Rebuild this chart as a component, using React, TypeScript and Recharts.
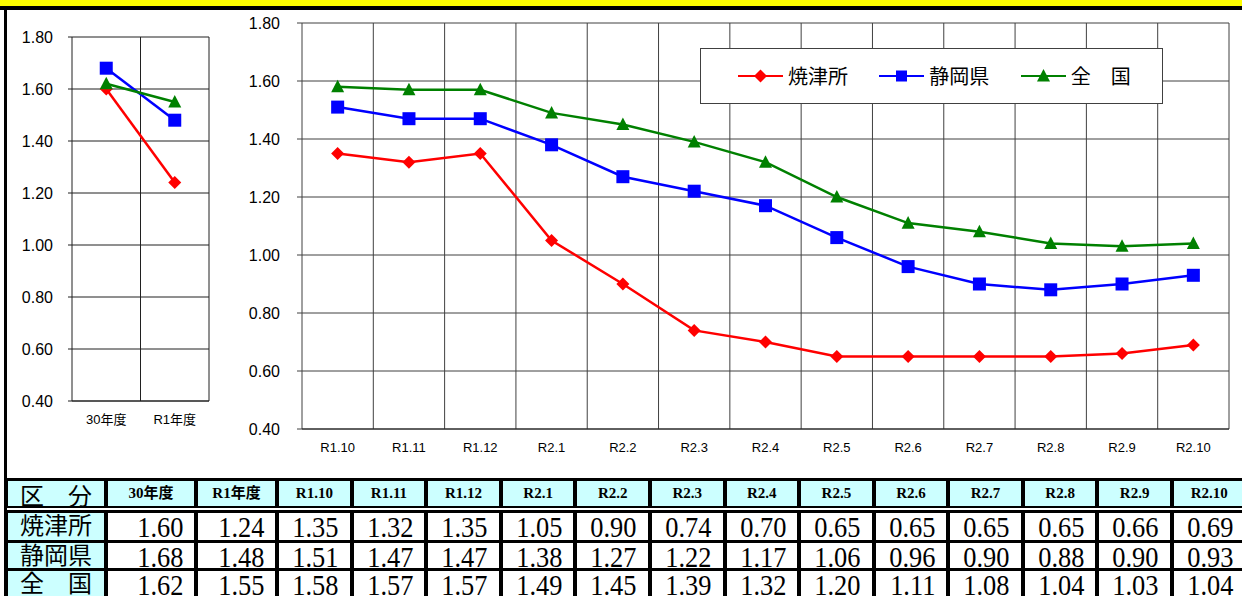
import React from 'react';
import { LineChart, Line, XAxis, YAxis, CartesianGrid, Legend } from 'recharts';

// ---------- data ----------
const seriesNames = ['焼津所', '静岡県', '全　国'];
const seriesKeys = ['yaizu', 'shizuoka', 'national'];
const seriesColors = ['#FF0000', '#0000FF', '#008000'];
const seriesShapes = ['diamond', 'square', 'triangle'];

const fyCategories = ['30年度', 'R1年度'];
const fyYaizu = [1.6, 1.24];
const fyShizuoka = [1.68, 1.48];
const fyNational = [1.62, 1.55];

const monthCategories = ['R1.10', 'R1.11', 'R1.12', 'R2.1', 'R2.2', 'R2.3', 'R2.4', 'R2.5', 'R2.6', 'R2.7', 'R2.8', 'R2.9', 'R2.10'];
const monthYaizu = [1.35, 1.32, 1.35, 1.05, 0.9, 0.74, 0.7, 0.65, 0.65, 0.65, 0.65, 0.66, 0.69];
const monthShizuoka = [1.51, 1.47, 1.47, 1.38, 1.27, 1.22, 1.17, 1.06, 0.96, 0.9, 0.88, 0.9, 0.93];
const monthNational = [1.58, 1.57, 1.57, 1.49, 1.45, 1.39, 1.32, 1.2, 1.11, 1.08, 1.04, 1.03, 1.04];

const yTicks = [0.4, 0.6, 0.8, 1.0, 1.2, 1.4, 1.6, 1.8];
const tableCornerLabel = '区　分';

// ---------- derived ----------
const fyData = fyCategories.map((name, i) => ({
  name,
  yaizu: fyYaizu[i],
  shizuoka: fyShizuoka[i],
  national: fyNational[i],
}));
const monthData = monthCategories.map((name, i) => ({
  name,
  yaizu: monthYaizu[i],
  shizuoka: monthShizuoka[i],
  national: monthNational[i],
}));
const allCategories = [...fyCategories, ...monthCategories];
const tableRows = [
  [...fyYaizu, ...monthYaizu],
  [...fyShizuoka, ...monthShizuoka],
  [...fyNational, ...monthNational],
];

const SANS = "'Liberation Sans', Arial, 'Noto Sans CJK JP', sans-serif";
const SERIF = "'Liberation Serif', 'Times New Roman', 'Noto Sans CJK JP', serif";
const CJK = "'Noto Sans CJK JP', sans-serif";

function Marker({ shape, cx, cy, color, r }: any) {
  if (cx == null || cy == null) return null;
  if (shape === 'diamond') {
    return <polygon points={`${cx},${cy - r} ${cx + r},${cy} ${cx},${cy + r} ${cx - r},${cy}`} fill={color} />;
  }
  if (shape === 'square') {
    return <rect x={cx - r} y={cy - r} width={2 * r} height={2 * r} fill={color} />;
  }
  return <polygon points={`${cx},${cy - r - 0.5} ${cx + r},${cy + r * 0.85} ${cx - r},${cy + r * 0.85}`} fill={color} />;
}

const boundaryGen = (n: number) => (props: any) => {
  const off = props.offset;
  const w = off.width != null ? off.width : props.width - off.left - off.right;
  return Array.from({ length: n + 1 }, (_, i) => off.left + (w * i) / n);
};

function renderSeries(markerR: number) {
  return seriesKeys.map((k, i) => (
    <Line
      key={k}
      type="linear"
      dataKey={k}
      name={seriesNames[i]}
      stroke={seriesColors[i]}
      strokeWidth={2.5}
      isAnimationActive={false}
      dot={(p: any) => (
        <Marker key={`${k}-${p.index}`} shape={seriesShapes[i]} cx={p.cx} cy={p.cy} color={seriesColors[i]} r={markerR} />
      )}
      activeDot={false}
    />
  ));
}

function LegendBox(props: any) {
  const payload = [...(props.payload || [])].sort(
    (a: any, b: any) => seriesNames.indexOf(a.value) - seriesNames.indexOf(b.value)
  );
  return (
    <div
      style={{
        width: 463,
        height: 56,
        boxSizing: 'border-box',
        border: '1px solid #404040',
        background: '#fff',
        display: 'flex',
        alignItems: 'center',
        paddingLeft: 37,
      }}
    >
      {payload.map((entry: any, i: number) => {
        const idx = seriesNames.indexOf(entry.value);
        const j = idx >= 0 ? idx : i;
        return (
          <div key={i} style={{ width: 146, display: 'flex', alignItems: 'center' }}>
            <svg width={45} height={16} style={{ display: 'block' }}>
              <line x1={0} y1={8} x2={45} y2={8} stroke={seriesColors[j]} strokeWidth={2} />
              <Marker shape={seriesShapes[j]} cx={22.5} cy={8} color={seriesColors[j]} r={seriesShapes[j] === 'square' ? 5.5 : 6.5} />
            </svg>
            <span style={{ marginLeft: 5, fontFamily: CJK, fontSize: 20, color: '#000', lineHeight: '20px' }}>
              {entry.value}
            </span>
          </div>
        );
      })}
    </div>
  );
}

// table geometry
const firstColCells = [
  [8, 104],
  [108, 194],
  [198, 275],
];
const rStart = 279.1;
const rStep = 74.57;
const rWidth = 70.6;
const colCell = (c: number): [number, number] => {
  if (c < 3) return firstColCells[c] as [number, number];
  const k = c - 3;
  const s = rStart + k * rStep;
  return [s, s + rWidth];
};
const rowCells = [
  [481, 506],
  [513, 540],
  [543, 568],
  [571, 600],
];

export default function App() {
  const cells: React.ReactNode[] = [];
  {
    const [x0, x1] = colCell(0);
    const [y0, y1] = rowCells[0];
    cells.push(
      <div
        key="corner"
        style={{
          position: 'absolute', left: x0, top: y0, width: x1 - x0, height: y1 - y0,
          background: '#CCFFFF', display: 'flex', alignItems: 'center', justifyContent: 'center',
          fontFamily: CJK, fontSize: 24, lineHeight: `${y1 - y0}px`, color: '#000', overflow: 'visible',
        }}
      >
        <span style={{ position: 'relative', top: 1 }}>{tableCornerLabel}</span>
      </div>
    );
  }
  allCategories.forEach((cat, c) => {
    const [x0, x1] = colCell(c + 1);
    const [y0, y1] = rowCells[0];
    cells.push(
      <div
        key={`h${c}`}
        style={{
          position: 'absolute', left: x0, top: y0, width: x1 - x0, height: y1 - y0,
          background: '#CCFFFF', textAlign: 'center', fontFamily: SERIF, fontWeight: 'bold',
          fontSize: 15, lineHeight: `${y1 - y0}px`, color: '#000', whiteSpace: 'nowrap',
        }}
      >
        {cat}
      </div>
    );
  });
  tableRows.forEach((row, r) => {
    const [y0, y1] = rowCells[r + 1];
    const [lx0, lx1] = colCell(0);
    cells.push(
      <div
        key={`l${r}`}
        style={{
          position: 'absolute', left: lx0, top: y0, width: lx1 - lx0, height: y1 - y0,
          background: '#CCFFFF', display: 'flex', justifyContent: 'center', alignItems: 'flex-start',
          fontFamily: CJK, fontSize: 24, color: '#000', overflow: 'hidden',
        }}
      >
        <span style={{ lineHeight: '24px', marginTop: -1 }}>{seriesNames[r]}</span>
      </div>
    );
    row.forEach((v, c) => {
      const [x0, x1] = colCell(c + 1);
      cells.push(
        <div
          key={`v${r}-${c}`}
          style={{
            position: 'absolute', left: x0, top: y0, width: x1 - x0, height: y1 - y0,
            background: '#fff', overflow: 'hidden', textAlign: 'right',
            fontFamily: SERIF, fontSize: 30, lineHeight: `${rowCells[1][1] - rowCells[1][0]}px`, color: '#000',
            whiteSpace: 'nowrap',
          }}
        >
          <span style={{ display: 'inline-block', transform: 'scaleX(0.88)', transformOrigin: 'right center', marginRight: 11 }}>
            {v.toFixed(2)}
          </span>
        </div>
      );
    });
  });

  return (
    <div style={{ position: 'absolute', left: 0, top: 0, width: 1242, height: 596, overflow: 'hidden', background: '#fff' }}>
      <div style={{ position: 'absolute', left: 0, top: 0, width: 1242, height: 6, background: '#FFFF00' }} />
      <div style={{ position: 'absolute', left: 0, top: 6, width: 1242, height: 4, background: '#000' }} />
      <div style={{ position: 'absolute', left: 4, top: 6, width: 3, height: 590, background: '#000' }} />

      {/* left (fiscal year) chart */}
      <div style={{ position: 'absolute', left: 0, top: 0 }}>
        <LineChart width={220} height={440} data={fyData} margin={{ top: 37, right: 11, bottom: 9, left: 0 }}>
          <CartesianGrid stroke="#202020" strokeWidth={1} verticalCoordinatesGenerator={boundaryGen(fyCategories.length)} />
          <XAxis
            dataKey="name"
            scale="band"
            height={30}
            tickSize={0}
            tickMargin={14}
            axisLine={{ stroke: '#202020' }}
            tick={{ fontSize: 13, fill: '#000', fontFamily: SANS }}
          />
          <YAxis
            width={72}
            domain={[0.4, 1.8]}
            ticks={yTicks}
            tickFormatter={(v: number) => v.toFixed(2)}
            tickSize={4}
            tickMargin={15}
            axisLine={false}
            tickLine={{ stroke: '#202020' }}
            tick={{ fontSize: 16, fill: '#000', fontFamily: SANS }}
          />
          {renderSeries(6.5)}
        </LineChart>
      </div>

      {/* main monthly chart */}
      <div style={{ position: 'absolute', left: 220, top: 0 }}>
        <LineChart width={1022} height={460} data={monthData} margin={{ top: 23, right: 13, bottom: 0, left: 0 }}>
          <CartesianGrid stroke="#404040" strokeWidth={1} verticalCoordinatesGenerator={boundaryGen(monthCategories.length)} />
          <XAxis
            dataKey="name"
            scale="band"
            height={31}
            tickSize={0}
            tickMargin={14}
            axisLine={{ stroke: '#202020' }}
            tick={{ fontSize: 13, fill: '#000', fontFamily: SANS }}
          />
          <YAxis
            width={82}
            domain={[0.4, 1.8]}
            ticks={yTicks}
            tickFormatter={(v: number) => v.toFixed(2)}
            tickSize={5}
            tickMargin={17}
            axisLine={false}
            tickLine={{ stroke: '#404040' }}
            tick={{ fontSize: 16, fill: '#000', fontFamily: SANS }}
          />
          <Legend
            layout="vertical"
            align="center"
            verticalAlign="middle"
            wrapperStyle={{ position: 'absolute', left: 480, top: 48, width: 463, height: 56 }}
            content={(p: any) => <LegendBox {...p} />}
          />
          {renderSeries(6.5)}
        </LineChart>
      </div>

      {/* data table */}
      <div style={{ position: 'absolute', left: 4, top: 478, width: 1238, height: 122, background: '#000' }} />
      <div style={{ position: 'absolute', left: 7, top: 508, width: 1235, height: 1.5, background: '#fff' }} />
      {cells}
    </div>
  );
}
